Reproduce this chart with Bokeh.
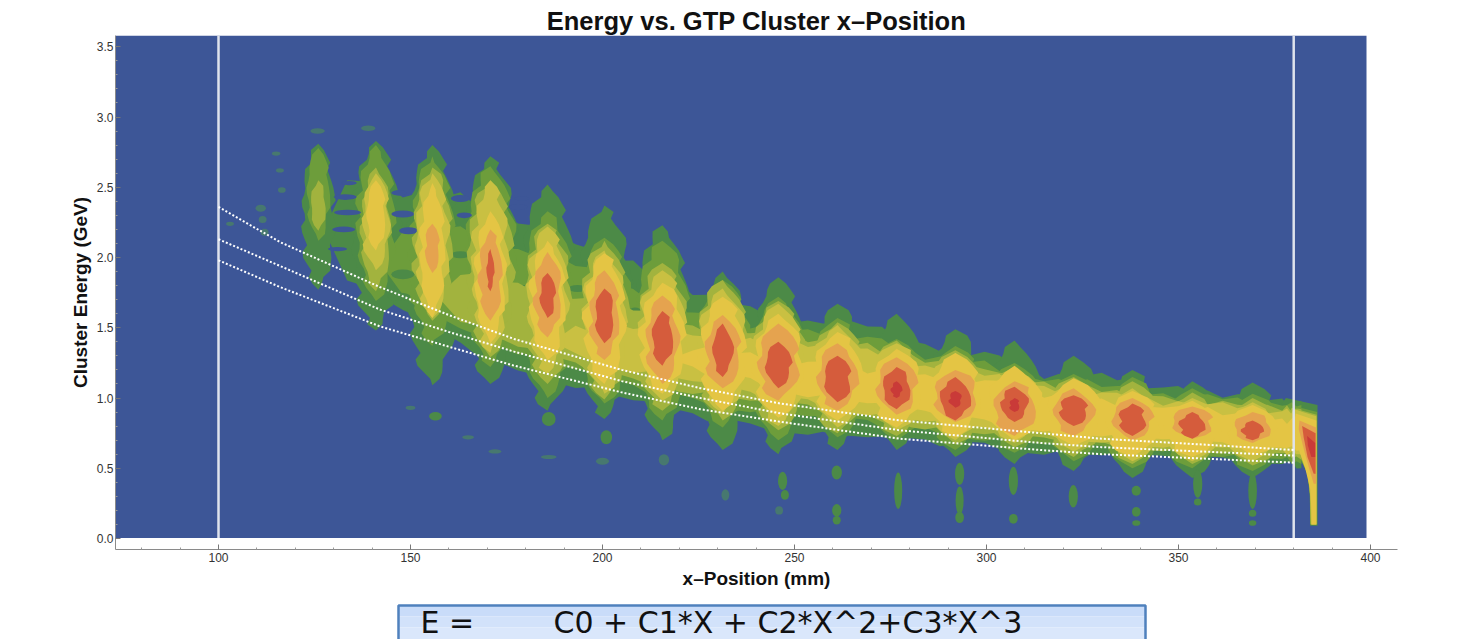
from bokeh.plotting import figure
from bokeh.embed import file_html
from bokeh.resources import INLINE
from bokeh.layouts import column
from bokeh.models import FixedTicker, Title, NumeralTickFormatter, Range1d
from bokeh.core.properties import value

N = None
x_ticks = [100, 150, 200, 250, 300, 350, 400]
x_minor = [80, 90, 110, 120, 130, 140, 160, 170, 180, 190, 210, 220, 230, 240, 260, 270, 280, 290,
           310, 320, 330, 340, 360, 370, 380, 390]
y_ticks = [0.0, 0.5, 1.0, 1.5, 2.0, 2.5, 3.0, 3.5]
y_minor = [0.1, 0.2, 0.3, 0.4, 0.6, 0.7, 0.8, 0.9, 1.1, 1.2, 1.3, 1.4, 1.6, 1.7, 1.8, 1.9,
           2.1, 2.2, 2.3, 2.4, 2.6, 2.7, 2.8, 2.9, 3.1, 3.2, 3.3, 3.4]

level_colors = ["#4c8a47", "#6d9d3b", "#a2b33e", "#c9c042", "#e4c544", "#e5a34f", "#d55c3c", "#c93a38"]
blue = "#3d5697"
faint = "#47786f"

col_x = [126, 141, 155.7, 170.8, 185.7, 200.5, 215.6, 231.3, 245.8, 261.2, 276.6, 291.9, 307.3, 322.7, 338, 353.6, 369.3]
top_0 = [2.81, 2.83, 2.80, 2.72, 2.52, 2.37, 2.23, 1.90, 1.86, 1.67, 1.60, 1.49, 1.41, 1.30, 1.20, 1.12, 1.11]
bot_0 = [1.77, 1.48, 1.09, 1.10, 0.91, 0.85, 0.70, 0.63, 0.60, 0.63, 0.63, 0.58, 0.53, 0.48, 0.43, 0.43, 0.43]
hw_0 = [4.0, 6, 6.5, 7, 7, 7, 7, 6.5, 6.5, 6.5, 6.5, 6.5, 6.5, 6.5, 6.5, 6.5, 6.5]
top_1 = [2.78, 2.80, 2.72, 2.65, 2.33, 2.14, 2.12, 1.84, 1.72, 1.57, 1.42, 1.37, 1.25, 1.17, 1.15, 1.07, 1.03]
bot_1 = [2.12, 1.69, 1.37, 1.22, 1.00, 0.96, 0.84, 0.79, 0.70, 0.72, 0.70, 0.63, 0.61, 0.55, 0.50, 0.50, 0.48]
hw_1 = [2.8, 4.7, 5.5, 6.5, 6.5, 6.8, 6.8, 6.8, 7, 7, 7, 7, 7, 7, 7, 7, 7]
top_2 = [2.55, 2.64, 2.64, 2.55, 2.24, 2.12, 1.96, 1.84, 1.69, 1.54, 1.41, 1.34, 1.22, 1.15, 1.12, 1.04, 1.00]
bot_2 = [2.19, 1.76, 1.55, 1.29, 1.10, 0.99, 0.91, 0.84, 0.77, 0.75, 0.73, 0.67, 0.65, 0.58, 0.53, 0.53, 0.52]
hw_2 = [1.8, 3.6, 4.8, 5.7, 5.7, 6, 6.2, 6.4, 6.6, 6.8, 6.8, 6.8, 6.8, 6.8, 6.8, 6.8, 6.8]
top_3 = [N, 2.60, 2.60, 2.55, 2.22, 2.05, 1.91, 1.78, 1.67, 1.52, 1.39, 1.32, 1.20, 1.13, 1.07, 1.00, 0.97]
bot_3 = [N, 1.91, 1.57, 1.32, 1.17, 1.03, 0.98, 0.89, 0.80, 0.79, 0.77, 0.70, 0.68, 0.62, 0.55, 0.55, 0.55]
hw_3 = [N, 3.3, 4.1, 4.5, 5, 5.3, 5.8, 6, 6.3, 6.4, 6.5, 6.5, 6.5, 6.5, 6.5, 6.5, 6.4]
top_4 = [N, 2.55, 2.53, 2.33, 2.12, 2.03, 1.82, 1.72, 1.60, 1.47, 1.35, 1.32, 1.23, 1.14, 1.05, 0.98, 0.95]
bot_4 = [N, 2.05, 1.57, 1.39, 1.27, 1.10, 1.03, 0.91, 0.86, 0.84, 0.79, 0.72, 0.70, 0.66, 0.58, 0.58, 0.59]
hw_4 = [N, 2.3, 3, 3.7, 4.3, 5, 5.5, 5.6, 6, 6, 6, 6.2, 6.5, 6.5, 6.5, 6.8, 6]
top_5 = [N, N, 2.24, 2.20, 2.04, 1.91, 1.73, 1.59, 1.53, 1.39, 1.29, 1.20, 1.12, 1.07, 1.00, 0.94, 0.90]
bot_5 = [N, N, 1.89, 1.55, 1.43, 1.27, 1.10, 1.07, 0.98, 0.91, 0.88, 0.83, 0.73, 0.73, 0.70, 0.71, 0.68]
hw_5 = [N, N, 1.7, 2.8, 3.3, 3.6, 4, 4.3, 5, 5, 5, 5.4, 5.2, 5, 5, 5, 4.5]
top_6 = [N, N, N, 2.06, 1.89, 1.78, 1.62, 1.53, 1.40, 1.30, 1.22, 1.15, 1.08, 1.02, 0.96, 0.90, 0.84]
bot_6 = [N, N, N, 1.76, 1.57, 1.39, 1.23, 1.15, 1.07, 0.97, 0.92, 0.84, 0.83, 0.80, 0.73, 0.71, 0.70]
hw_6 = [N, N, N, 0.9, 1.9, 2.3, 2.6, 2.5, 3.2, 3.3, 3.4, 3.7, 3.3, 3.4, 3.2, 3.1, 2.6]
top_7 = [N, N, N, N, N, N, N, N, N, N, 1.12, 1.05, 1.00, N, N, N, N]
bot_7 = [N, N, N, N, N, N, N, N, N, N, 1.00, 0.93, 0.90, N, N, N, N]
hw_7 = [N, N, N, N, N, N, N, N, N, N, 1.3, 1.5, 1.2, N, N, N, N]

mid_x = [133.5, 148, 163, 178, 193, 208, 223.5, 238.5, 253.5, 269, 284, 299.5, 315, 330, 346, 361.5, 377, 382]
vtop_0 = [2.55, 2.45, 2.45, 2.25, 2.10, 1.95, 1.75, 1.63, 1.54, 1.52, 1.36, 1.32, 1.16, 1.16, 1.07, 1.03, 0.98, 0.98]
vbot_0 = [1.85, 1.62, 1.38, 1.20, 1.08, 0.98, 0.88, 0.80, 0.76, 0.72, 0.68, 0.66, 0.62, 0.60, 0.58, 0.56, 0.55, 0.50]
vtop_1 = [N, 2.20, 2.20, 2.05, 1.95, 1.75, 1.60, 1.52, 1.47, 1.43, 1.30, 1.25, 1.12, 1.10, 1.02, 1.00, 0.95, 0.95]
vbot_1 = [N, 1.72, 1.50, 1.32, 1.20, 1.08, 0.98, 0.92, 0.87, 0.82, 0.77, 0.72, 0.68, 0.65, 0.62, 0.60, 0.58, 0.53]
vtop_2 = [N, N, 1.90, 1.80, 1.70, 1.65, 1.50, 1.46, 1.42, 1.38, 1.26, 1.21, 1.09, 1.06, 0.99, 0.97, 0.92, 0.92]
vbot_2 = [N, N, 1.55, 1.36, 1.24, 1.12, 1.05, 0.98, 0.93, 0.86, 0.80, 0.75, 0.71, 0.67, 0.64, 0.62, 0.60, 0.56]
vtop_3 = [N, N, N, N, 1.50, 1.50, 1.45, 1.40, 1.38, 1.33, 1.22, 1.17, 1.06, 1.03, 0.97, 0.95, 0.90, 0.90]
vbot_3 = [N, N, N, N, 1.30, 1.20, 1.12, 1.02, 0.97, 0.90, 0.84, 0.78, 0.73, 0.70, 0.66, 0.64, 0.62, 0.60]
vtop_4 = [N, N, N, N, N, N, 1.35, 1.30, 1.25, 1.20, 1.15, 1.12, 1.03, 0.98, 0.93, 0.90, 0.84, 0.85]
vbot_4 = [N, N, N, N, N, N, 1.20, 1.12, 1.03, 0.97, 0.90, 0.83, 0.78, 0.74, 0.70, 0.67, 0.65, 0.63]

edge_E = [[1.0, .93, .75, .60, .48, .34, .09], [.95, .88, .72, .58, .46, .30, .10], [.93, .86, .71, .59, .45, .30, .10],
          [.92, .85, .70, .60, .45, .30, .10], [.89, .80, .62, .50, .35, .20, .10], [.84, .78, .62, .50, .39],
          [.80, .72, .58, .46], [.73, .66, .58]]
edge_left = [[378, 376, 378, 381, 383.4, 384.2, 384.3], [379, 377.5, 379, 381.5, 383.6, 384.2, 384.3],
             [379.5, 378, 379.2, 381.6, 383.7, 384.3, 384.4], [380, 378.5, 379.5, 381.8, 383.8, 384.3, 384.5],
             [380.5, 380, 381.5, 383, 384.3, 384.6, 384.7], [381.5, 381.3, 382.8, 384, 385.2],
             [382.2, 382.6, 383.6, 385.2], [383.5, 383.7, 384.6]]
edge_right = [386.2, 386.1, 386.0, 385.9, 385.9, 385.8, 385.7, 385.6]

gap_x = [133, 133.6, 132.6, 131, 148, 149.5, 147, 134, 163, 164, 178, 179]
gap_E = [2.43, 2.32, 2.20, 2.06, 2.31, 2.19, 2.46, 2.53, 2.42, 2.30, 2.36, 2.42]
gap_w = [3, 3.5, 3, 2.5, 3, 2.5, 2, 2, 2.5, 2, 2.5, 2]
gap_h = [.04, .04, .04, .03, .05, .05, .04, .03, .05, .04, .04, .03]
patch_x = [163.5, 164.5, 148, 147, 178, 193.5, 193, 208.5, 208, 179, 163]
patch_E = [1.78, 1.62, 1.88, 1.72, 1.52, 1.78, 1.62, 1.62, 1.46, 1.78, 2.02]
patch_w = [4, 3, 3, 3, 3, 2.4, 2, 1.5, 1.5, 3, 2.5]
patch_h = [.05, .05, .07, .06, .03, .05, .03, .05, .03, .05, .05]

wisp_x = [246.9, 247.5, 261, 261, 261, 277, 293, 293, 293, 307, 307, 339, 339, 339, 355, 355, 369.3, 369.3, 369.3, 322.6, 156.5, 186, 201]
wisp_E = [.41, .31, .47, .20, .13, .34, .46, .27, .15, .41, .14, .34, .19, .11, .39, .26, .34, .18, .11, .30, .87, .85, .72]
wisp_w = [1.6, 1.4, 1.8, 1.6, 1.4, 1.4, 1.6, 1.4, 1.5, 1.6, 1.5, 1.6, 1.5, 1.4, 1.6, 1.3, 1.5, 1.3, 1.3, 1.6, 2.2, 2.4, 2.0]
wisp_h = [.13, .07, .10, .09, .06, .26, .16, .20, .08, .20, .07, .07, .07, .04, .20, .05, .26, .05, .04, .16, .06, .10, .10]
faint_x = [111, 111.5, 112, 115, 116, 116.5, 103, 150, 165, 172, 186, 232, 246, 216, 200, 125.8, 139]
faint_E = [2.35, 2.27, 2.18, 2.74, 2.62, 2.48, 2.24, .93, .72, .62, .58, .31, .20, .56, .55, 2.90, 2.92]
faint_w = [1.6, 1.2, 1.2, 1.3, 1.2, 1.2, 1.2, 1.5, 1.8, 2, 2.4, 1.2, 1.2, 1.6, 2, 2.2, 2.2]
faint_h = [.05, .05, .05, .03, .03, .04, .03, .03, .03, .03, .03, .08, .06, .08, .05, .04, .04]

curve_x = [100, 116, 142, 160, 177, 205, 225.5, 246.5, 277.5, 314, 330, 355.5, 380]
curve_hi = [2.36, 2.11, 1.79, 1.59, 1.42, 1.20, 1.07, 0.96, 0.84, 0.75, 0.71, 0.67, 0.63]
curve_mid = [2.13, 1.94, 1.63, 1.47, 1.33, 1.12, 1.00, 0.89, 0.77, 0.68, 0.65, 0.62, 0.59]
curve_lo = [1.98, 1.79, 1.51, 1.365, 1.23, 1.04, 0.92, 0.83, 0.71, 0.63, 0.60, 0.57, 0.54]
cut_lines = [100, 380]

formula_left = "E ="
formula_right = "C0 + C1*X + C2*X^2+C3*X^3"

tops = [top_0, top_1, top_2, top_3, top_4, top_5, top_6, top_7]
bots = [bot_0, bot_1, bot_2, bot_3, bot_4, bot_5, bot_6, bot_7]
hws = [hw_0, hw_1, hw_2, hw_3, hw_4, hw_5, hw_6, hw_7]
vtops = [vtop_0, vtop_1, vtop_2, vtop_3, vtop_4]
vbots = [vbot_0, vbot_1, vbot_2, vbot_3, vbot_4]

rough = [0.0, .7, -.4, 1.0, -.8, .2, .9, -.6, .5, -1.0, .3, .8, -.3, .6, -.9, .4, -.2]

PX_X = 3.84
x0 = 100 - (218 - 115) / PX_X
x1 = 100 + (1397 - 218) / PX_X
img_right = 100 + (1366 - 218) / PX_X
y_bottom = -11 / 140.5
y_top = (538 - 35) / 140.5

p = figure(width=1478, height=600, output_backend="svg", toolbar_location=None,
           x_range=(x0, x1), y_range=(y_bottom, y_top), min_border_left=115, min_border_right=81,
           min_border_top=35, min_border_bottom=51, outline_line_color=None,
           background_fill_color="white", border_fill_color="white")
p.grid.visible = False
p.title = Title(text="Energy vs. GTP Cluster x\u2013Position", align="center", text_font="Liberation Sans",
                text_font_size="25.5px", text_font_style="bold", text_color="#111111", standoff=2, offset=0)

p.quad(left=[x0], right=[img_right], bottom=[0.004], top=[y_top], fill_color=blue, line_color=None)


def lens(xc, top, bot, hw, seed, L):
    n = max(9, int((top - bot) / 0.045))
    amp = min(0.95, 0.16 * hw + 0.1)
    xs_r, xs_l, ys = [], [], []
    for i in range(n + 1):
        t = -1 + 2 * i / n
        w = hw * (1 - abs(t) ** 2.3) ** 0.72
        r1 = rough[(i * 2 + seed) % len(rough)] * amp
        r2 = rough[(i * 3 + seed + 5) % len(rough)] * amp
        edge = 0 if i in (0, n) else 1
        xs_r.append(xc + w + r1 * edge)
        xs_l.append(xc - w - r2 * edge)
        ys.append((top + bot) / 2 + t * (top - bot) / 2)
    return xs_r + xs_l[::-1], ys + ys[::-1]


def ridge(vt, vb, seed):
    cur = [i for i, v in enumerate(vt) if v is not None]
    xt, yt, xb, yb = [], [], [], []
    first = cur[0]
    tip = mid_x[first] - 6
    tip_y = (vt[first] + vb[first]) / 2
    xt.append(tip); yt.append(tip_y)
    xb.append(tip); yb.append(tip_y)
    for a, b in zip(cur[:-1], cur[1:]):
        for k in range(4):
            f = k / 4
            r = rough[(a * 4 + k + seed) % len(rough)] * 0.028
            xt.append(mid_x[a] + (mid_x[b] - mid_x[a]) * f)
            yt.append(vt[a] + (vt[b] - vt[a]) * f + r)
            r2 = rough[(a * 3 + k + seed + 7) % len(rough)] * 0.024
            xb.append(xt[-1])
            yb.append(vb[a] + (vb[b] - vb[a]) * f + r2)
    xt.append(mid_x[cur[-1]]); yt.append(vt[cur[-1]])
    xb.append(mid_x[cur[-1]]); yb.append(vb[cur[-1]])
    return xt + xb[::-1], yt + yb[::-1]


p.ellipse(x=faint_x, y=faint_E, width=[w * 1.7 for w in faint_w], height=faint_h, fill_color=faint, line_color=None)

for L, color in enumerate(level_colors):
    xs, ys = [], []
    if L < len(vtops):
        a, b = ridge(vtops[L], vbots[L], L * 3)
        xs.append(a); ys.append(b)
    for c, xc in enumerate(col_x):
        if tops[L][c] is None:
            continue
        a, b = lens(xc, tops[L][c], bots[L][c], hws[L][c], c * 3 + L, L)
        xs.append(a); ys.append(b)
    rt = edge_right[L]
    ee, el = edge_E[L], edge_left[L]
    xs.append(list(el) + [rt, rt])
    ys.append(list(ee) + [ee[-1], ee[0] - 0.05])
    p.patches(xs, ys, fill_color=color, line_color=None)
    if L == 0:
        p.ellipse(x=wisp_x, y=wisp_E, width=[w * 1.5 for w in wisp_w], height=wisp_h, fill_color=color, line_color=None)
    if L == 1:
        p.ellipse(x=gap_x, y=gap_E, width=[w * 2 for w in gap_w], height=gap_h, fill_color=blue, line_color=None)
        p.ellipse(x=patch_x, y=patch_E, width=[w * 2 for w in patch_w], height=patch_h, fill_color=level_colors[0], line_color=None)

for cx in cut_lines:
    p.line([cx, cx], [0.004, y_top], line_color="#dfe3ec", line_width=2.5)
for cy in (curve_hi, curve_mid, curve_lo):
    p.line(curve_x, cy, line_color="white", line_width=2, line_dash="2 2")

ax = p.xaxis[0]
ax.ticker = FixedTicker(ticks=x_ticks, minor_ticks=x_minor)
ax.axis_label = "x\u2013Position (mm)"
ay = p.yaxis[0]
ay.ticker = FixedTicker(ticks=y_ticks, minor_ticks=y_minor)
ay.axis_label = "Cluster Energy (GeV)"
ay.formatter = NumeralTickFormatter(format="0.0")
for a in (ax, ay):
    a.axis_line_color = "#8a8a8a"
    a.major_tick_line_color = "#777777"
    a.minor_tick_line_color = "#999999"
    a.major_tick_in = 5
    a.major_tick_out = 0
    a.minor_tick_in = 2
    a.minor_tick_out = 0
    a.major_label_text_font = "Liberation Sans"
    a.major_label_text_font_size = "12px"
    a.major_label_text_color = "#333333"
    a.axis_label_text_font = "Liberation Sans"
    a.axis_label_text_font_size = "19px"
    a.axis_label_text_font_style = "bold"
    a.axis_label_text_color = "#111111"
ax.major_label_standoff = 3
ax.axis_label_standoff = 3
ay.major_label_standoff = 2
ay.axis_label_standoff = 3

# formula box below the chart, its ranges are the pixels of the page
q = figure(width=1478, height=39, output_backend="svg", toolbar_location=None,
           x_range=Range1d(115, 1397), y_range=Range1d(639, 600), min_border_left=115, min_border_right=81,
           min_border_top=0, min_border_bottom=0,
           outline_line_color=None, background_fill_color="white", border_fill_color="white")
q.axis.visible = False
q.grid.visible = False
band_top = [605, 616, 627]
band_bot = [616, 627, 650]
band_col = ["#c9dcf9", "#d2e2fa", "#dae7fb"]
q.quad(left=[398] * 3, right=[1145] * 3, top=band_top, bottom=band_bot, fill_color=band_col, line_color=None)
q.line([398, 398, 1145, 1145], [650, 605, 605, 650], line_color="#4f81bd", line_width=2.5)
q.text(x=[420, 553], y=[622, 622], text=[formula_left, formula_right], text_font=value("DejaVu Sans"),
       text_font_size="30px", text_color="#111111", text_baseline="middle")

open("out.html", "w").write(file_html(column(p, q, spacing=0), INLINE))
